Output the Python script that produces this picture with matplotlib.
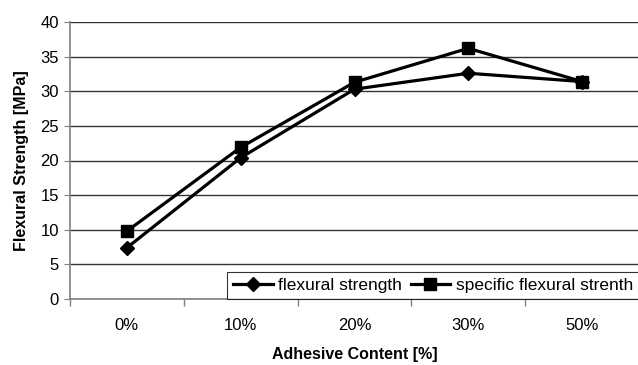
## Import libraries
import numpy as np
from matplotlib import pyplot as plt

plt.rcParams['font.family'] = ['Liberation Sans', 'DejaVu Sans']

## Data
categories = ['0%', '10%', '20%', '30%', '50%']
flexural_strength = [7.4, 20.4, 30.3, 32.6, 31.4]
specific_flexural = [9.8, 21.9, 31.3, 36.2, 31.4]

x = np.arange(len(categories))

fig = plt.figure(figsize=(6.38, 3.65), dpi=100)
ax = fig.add_axes([70 / 638, 1 - 299 / 365, 569 / 638, 277 / 365])

ax.plot(x, flexural_strength, color='black', lw=2.3, marker='D', ms=7,
        label='flexural strength')
ax.plot(x, specific_flexural, color='black', lw=2.3, marker='s', ms=9,
        label='specific flexural strenth')

## Axes and grid
ax.set_xlim(-0.5, len(categories) - 0.5)
ax.set_ylim(0, 40)
ax.set_yticks(np.arange(0, 41, 5))
ax.set_xticks(x)
ax.set_xticklabels(categories)
ax.set_xticks(np.arange(-0.5, len(categories), 1.0), minor=True)
ax.tick_params(axis='x', which='major', length=0, pad=14, labelsize=12)
ax.tick_params(axis='x', which='minor', length=5, color='#808080', width=1)
ax.tick_params(axis='y', length=4, color='#808080', labelsize=12, pad=4)
ax.yaxis.grid(True, color='#333333', lw=1)
ax.set_axisbelow(True)

for side in ['top', 'right']:
    ax.spines[side].set_visible(False)
for side in ['left', 'bottom']:
    ax.spines[side].set_color('#808080')
    ax.spines[side].set_linewidth(1.2)

ax.set_xlabel('Adhesive Content [%]', fontsize=11.5, fontweight='bold', labelpad=10)
ax.set_ylabel('Flexural Strength [MPa]', fontsize=11.5, fontweight='bold', labelpad=8)

## Legend in the lower right corner
leg = ax.legend(loc='lower right', ncol=2, fontsize=12.5, frameon=True,
                fancybox=False, borderaxespad=0, handlelength=2.3,
                columnspacing=0.5, handletextpad=0.3, borderpad=0.35)
leg.get_frame().set_edgecolor('black')
leg.get_frame().set_linewidth(0.8)

plt.savefig('out.png', dpi=100)
plt.close('all')
